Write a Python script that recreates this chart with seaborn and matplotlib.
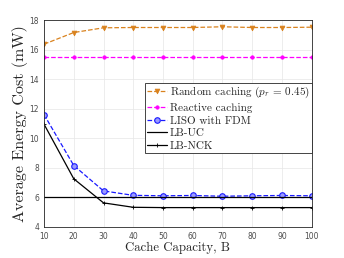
import seaborn as sns
import matplotlib.pyplot as plt

# data
cache = [10, 20, 30, 40, 50, 60, 70, 80, 90, 100]
random_caching = [16.37, 17.16, 17.48, 17.5, 17.5, 17.5, 17.55, 17.5, 17.5, 17.52]
reactive = [15.5] * 10
liso_fdm = [11.6, 8.15, 6.43, 6.13, 6.1, 6.12, 6.07, 6.1, 6.12, 6.1]
lb_uc = [6.0] * 10
lb_nck = [10.95, 7.25, 5.62, 5.32, 5.3, 5.3, 5.3, 5.3, 5.3, 5.3]

labels = [r'Random caching ($p_r$ = 0.45)', 'Reactive caching', 'LISO with FDM', 'LB-UC', 'LB-NCK']

sns.set_style('whitegrid')
plt.rcParams['font.family'] = ['cmr10', 'DejaVu Serif']
plt.rcParams['mathtext.fontset'] = 'cm'
plt.rcParams['axes.unicode_minus'] = False

fig, ax = plt.subplots(figsize=(3.44, 2.58), dpi=100)
fig.subplots_adjust(left=0.128, right=0.906, bottom=0.121, top=0.922)

sns.lineplot(x=cache, y=random_caching, ax=ax, color='#D9821E', linestyle='--',
             marker='v', markersize=3.5, markeredgecolor='#D9821E', markeredgewidth=0.5,
             linewidth=0.9)
sns.lineplot(x=cache, y=reactive, ax=ax, color='#FF00FF', linestyle='--',
             marker='o', markersize=2.5, markeredgecolor='#FF00FF', markeredgewidth=0.5,
             linewidth=0.9)
sns.lineplot(x=cache, y=liso_fdm, ax=ax, color='#1A1AFF', linestyle='--',
             marker='o', markersize=4, markerfacecolor='#9999FF', markeredgecolor='#1A1AFF',
             markeredgewidth=0.8, linewidth=0.9)
sns.lineplot(x=cache, y=lb_uc, ax=ax, color='black', linewidth=0.9)
sns.lineplot(x=cache, y=lb_nck, ax=ax, color='black', linewidth=0.9,
             marker='+', markersize=3.5, markeredgecolor='black', markeredgewidth=0.6)

ax.set_xlim(10, 100)
ax.set_ylim(4, 18)
ax.set_xticks(range(10, 101, 10))
ax.set_yticks(range(4, 19, 2))
ax.tick_params(axis='both', labelsize=5.5, labelcolor='#4d4d4d', direction='in',
               length=2, width=0.5, colors='#4d4d4d')
for lab in ax.get_xticklabels() + ax.get_yticklabels():
    lab.set_family('DejaVu Sans')
ax.grid(True, color='#e6e6e6', linewidth=0.5)
for s in ax.spines.values():
    s.set_visible(True)
    s.set_color('#262626')
    s.set_linewidth(0.6)

ax.set_xlabel('Cache Capacity, B', fontsize=9.2, labelpad=1)
ax.set_ylabel('Average Energy Cost (mW)', fontsize=11.5, labelpad=1)

leg = ax.legend(ax.lines[:5], labels, loc='upper right', bbox_to_anchor=(1, 0.697),
                borderaxespad=0, fontsize=8, handlelength=1.8, handletextpad=0.2,
                labelspacing=0.25, borderpad=0.2, fancybox=False, framealpha=1,
                edgecolor='#262626')
leg.get_frame().set_linewidth(0.6)

plt.savefig('out.png', dpi=100)
